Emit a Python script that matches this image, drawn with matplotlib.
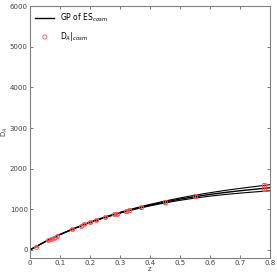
import matplotlib
matplotlib.use("Agg")
import matplotlib.pyplot as plt

# GP reconstruction: mean and 1-sigma band
z_gp = [0.0, 0.05, 0.1, 0.15, 0.2, 0.25, 0.3, 0.35, 0.4, 0.45,
        0.5, 0.55, 0.6, 0.65, 0.7, 0.75, 0.8]
da_mean = [0, 200, 378, 536, 678, 803, 915, 1014, 1102, 1180,
           1250, 1311, 1366, 1414, 1456, 1494, 1531]
da_low = [0, 199, 375, 532, 672, 795, 904, 1000, 1084, 1157,
          1221, 1276, 1324, 1364, 1398, 1428, 1455]
da_high = [0, 201, 381, 540, 684, 811, 926, 1028, 1120, 1203,
           1279, 1346, 1408, 1464, 1514, 1560, 1605]

# D_A data points
z_pts = [0.02, 0.06, 0.07, 0.08, 0.09, 0.14, 0.17, 0.18, 0.2, 0.22,
         0.25, 0.28, 0.29, 0.32, 0.33, 0.37, 0.45, 0.55, 0.78, 0.78]
da_pts = [82, 235, 270, 300, 335, 510, 600, 630, 690, 740,
          805, 880, 890, 955, 975, 1050, 1180, 1330, 1490, 1605]
da_err = [15, 18, 20, 20, 22, 25, 25, 27, 28, 30,
          30, 32, 33, 35, 35, 38, 40, 45, 50, 50]

fig = plt.figure(figsize=(2.77, 2.76), dpi=100)
ax = fig.add_axes([0.108, 0.065, 0.867, 0.913])

line, = ax.plot(z_gp, da_mean, color='black', lw=1.0)
ax.plot(z_gp, da_low, color='black', lw=0.8)
ax.plot(z_gp, da_high, color='black', lw=0.8)
ax.errorbar(z_pts, da_pts, yerr=da_err, fmt='o', ms=3, mfc='none',
            mec='#ff5050', mew=0.6, ecolor='#ff5050', elinewidth=0.6,
            capsize=1.5, capthick=0.6, zorder=3)
pts = ax.scatter([], [], s=9, facecolors='none', edgecolors='#ff5050',
                 linewidths=0.6)

ax.set_xlim(0, 0.8)
ax.set_ylim(-200, 6000)
ax.set_xticks([0, 0.1, 0.2, 0.3, 0.4, 0.5, 0.6, 0.7, 0.8])
ax.set_xticklabels(['0', '0.1', '0.2', '0.3', '0.4', '0.5', '0.6', '0.7', '0.8'])
ax.set_yticks([0, 1000, 2000, 3000, 4000, 5000, 6000])
ax.tick_params(direction='in', top=True, right=True, length=2.5, width=0.5,
               labelsize=5, colors='#404040', pad=1.5)
for s in ax.spines.values():
    s.set_color('#808080')
    s.set_linewidth(0.8)

ax.set_xlabel('z', fontsize=5, color='#404040', labelpad=0)
ax.set_ylabel('D$_A$', fontsize=5, color='#404040', labelpad=0)

ax.legend([line, pts], ['GP of ES$_{cosm}$', 'D$_A|_{cosm}$'],
          loc='upper left', frameon=False, fontsize=5.5, handlelength=2.5,
          borderaxespad=0.3, labelspacing=0.8)

fig.savefig('out.png', dpi=100)
